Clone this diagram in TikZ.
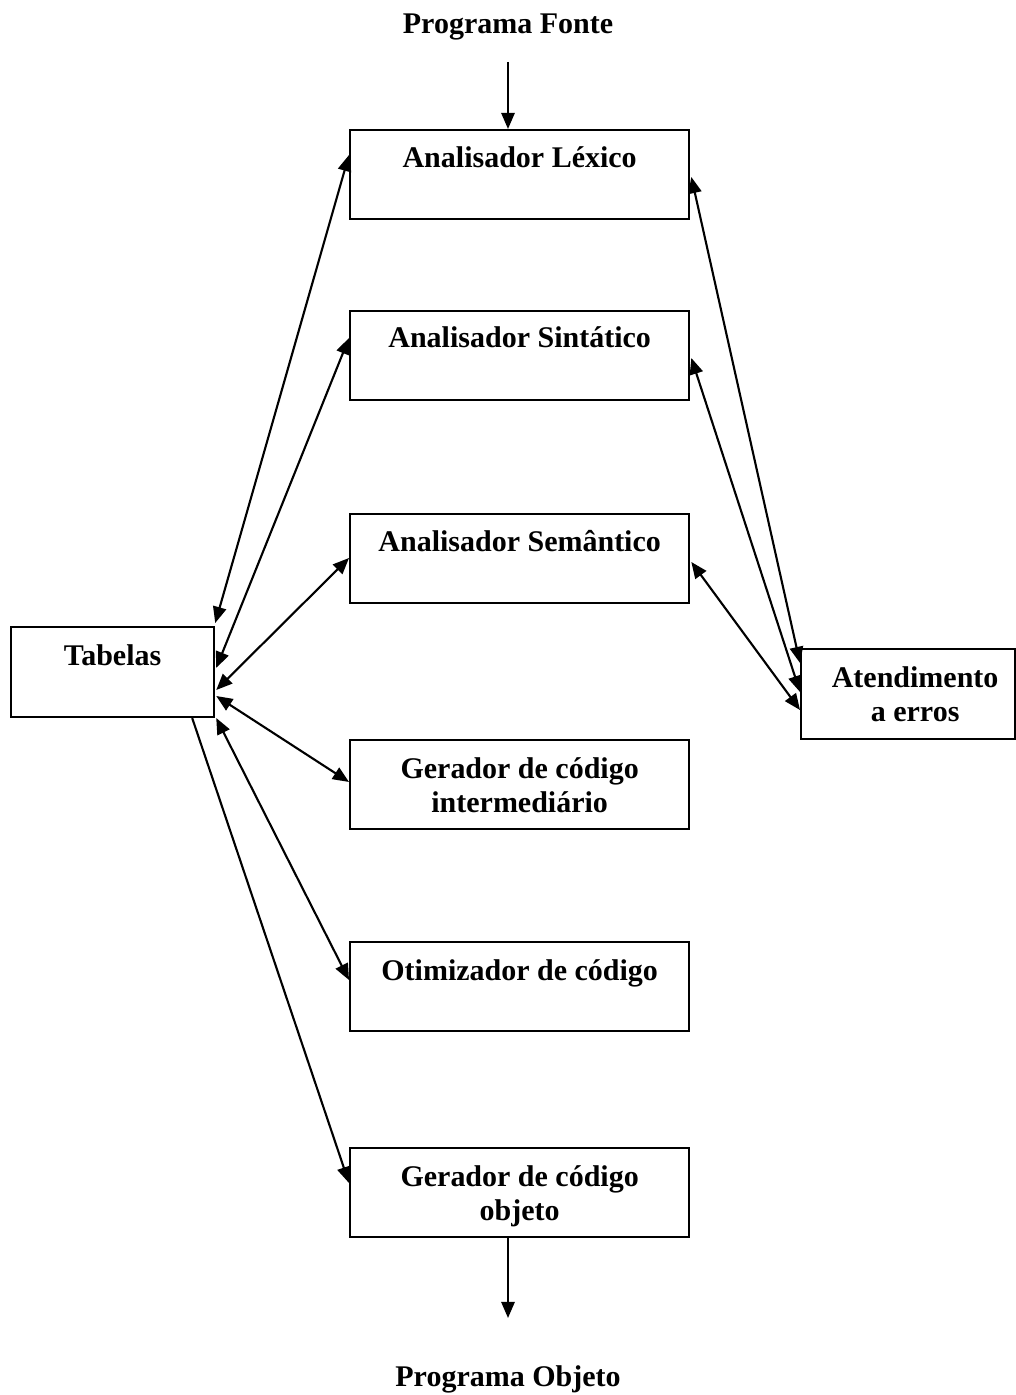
\documentclass[tikz,border=0pt]{standalone}
\usepackage{fontspec}
\setmainfont{Liberation Serif}
\usetikzlibrary{arrows.meta,calc}
\begin{document}
\begin{tikzpicture}[x=0.01cm,y=-0.01cm,
  stage/.style={draw, line width=0.6pt, minimum width=3.39cm, minimum height=0.89cm,
                inner sep=0pt, anchor=north west},
  side/.style={stage, minimum height=0.90cm},
  lbl/.style={font=\fontsize{8.53}{9.7}\selectfont\bfseries, anchor=base, inner sep=0pt},
  link/.style={line width=0.6pt, {Triangle[length=4.6pt,width=3.8pt]}-{Triangle[length=4.6pt,width=3.8pt]}},
  flow/.style={line width=0.6pt, -{Triangle[length=4.6pt,width=3.8pt]}}]
\useasboundingbox (0,0) rectangle (1015,1395);

% compiler phases
\node[stage] (lex) at (349,129)  {};
\node[stage] (sin) at (349,310)  {};
\node[stage] (sem) at (349,513)  {};
\node[stage] (gim) at (349,739)  {};
\node[stage] (oti) at (349,941)  {};
\node[stage] (obj) at (349,1147) {};
% side boxes
\node[side, minimum width=2.03cm] (tab) at (10,626) {};
\node[side, minimum width=2.14cm] (att) at (800,648) {};

% labels
\node[lbl] (src)  at (508,34) {Programa Fonte};
\node[lbl] (lexT) at ($(lex.north)+(0,39)$) {Analisador Léxico};
\node[lbl] (sinT) at ($(sin.north)+(0,38)$) {Analisador Sintático};
\node[lbl] (semT) at ($(sem.north)+(0,38)$) {Analisador Semântico};
\node[lbl] (gimT) at ($(gim.north)+(0,39)$) {\begin{tabular}[t]{@{}c@{}}Gerador de código\\intermediário\end{tabular}};
\node[lbl] (otiT) at ($(oti.north)+(0,39)$) {Otimizador de código};
\node[lbl] (objT) at ($(obj.north)+(0,39)$) {\begin{tabular}[t]{@{}c@{}}Gerador de código\\objeto\end{tabular}};
\node[lbl] (tabT) at ($(tab.north)+(0,39)$) {Tabelas};
\node[lbl] (attT) at ($(att.north)+(7,39)$) {\begin{tabular}[t]{@{}c@{}}Atendimento\\a erros\end{tabular}};
\node[lbl] (dstT) at (508,1386) {Programa Objeto};

% main flow in and out
\coordinate (in)  at (508,62);
\coordinate (out) at (508,1318);
\draw[flow] (in) -- ($(lex.north west)+(159,0)$);
\draw[flow] ($(obj.south west)+(159,0)$) -- (out);

% symbol tables
\draw[link] ($(lex.north west)+(0,26)$) -- ($(tab.north east)+(0,-3)$);
\draw[link] ($(sin.north west)+(0,28)$) -- ($(tab.north east)+(1,42)$);
\draw[link] ($(sem.north west)+(0,45)$) -- ($(tab.north east)+(1,64)$);
\draw[link] ($(gim.north west)+(0,43)$) -- ($(tab.north east)+(1,70)$);
\draw[link] ($(oti.north west)+(0,39)$) -- ($(tab.north east)+(1,92)$);
\draw[flow] ($(tab.south east)+(-23,0)$) -- ($(obj.north west)+(0,36)$);

% error handling
\draw[link] ($(lex.north east)+(1,48)$) -- ($(att.north west)+(0,15)$);
\draw[link] ($(sin.north east)+(1,48)$) -- ($(att.north west)+(0,44)$);
\draw[link] ($(sem.north east)+(1,49)$) -- ($(att.north west)+(0,62)$);
\end{tikzpicture}
\end{document}
